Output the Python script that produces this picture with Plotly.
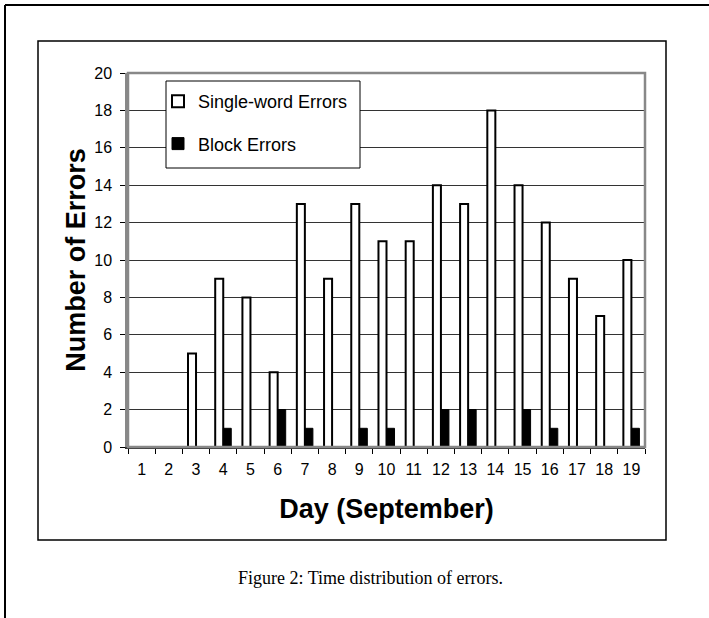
import plotly.graph_objects as go

days = [str(d) for d in range(1, 20)]
single_word = [0, 0, 5, 9, 8, 4, 13, 9, 13, 11, 11, 14, 13, 18, 14, 12, 9, 7, 10]
block = [0, 0, 0, 1, 0, 2, 1, 0, 1, 1, 0, 2, 2, 0, 2, 1, 0, 0, 1]
y_ticks = list(range(0, 21, 2))

W, H = 709, 618
L, R, T, B = 128, 645, 73, 447


def px(x):
    return (x - L) / (R - L)


def py(y):
    return (B - y) / (B - T)


fig = go.Figure()
fig.add_bar(
    x=days, y=single_word, name="Single-word Errors", legendgroup="a",
    marker=dict(color="white", line=dict(color="black", width=2)),
)
fig.add_bar(
    x=days, y=block, name="Block Errors", legendgroup="b",
    marker=dict(color="black", line=dict(color="black", width=1)),
)

shapes = [
    # outer figure frame
    dict(type="line", xref="paper", yref="paper", x0=px(5), x1=px(720), y0=py(5), y1=py(5),
         line=dict(color="black", width=2)),
    dict(type="line", xref="paper", yref="paper", x0=px(5), x1=px(5), y0=py(5), y1=py(630),
         line=dict(color="black", width=2)),
    # chart box
    dict(type="rect", xref="paper", yref="paper", x0=px(38), x1=px(666), y0=py(41), y1=py(540),
         line=dict(color="black", width=1.5)),
    # plot area border
    dict(type="rect", xref="paper", yref="paper", x0=0, x1=1, y0=0, y1=1,
         line=dict(color="#888888", width=2.5)),
    # legend box
    dict(type="rect", xref="paper", yref="paper", x0=px(166), x1=px(360), y0=py(81), y1=py(168),
         fillcolor="white", layer="above", line=dict(color="black", width=1)),
]

fig.update_layout(
    width=W, height=H,
    margin=dict(l=L, r=W - R, t=T, b=H - B),
    paper_bgcolor="white", plot_bgcolor="white",
    font=dict(family="Liberation Sans, Arial", color="black", size=16),
    barmode="group", bargap=0.41, bargroupgap=0,
    showlegend=True,
    legend=dict(
        x=px(158), y=py(83), xanchor="left", yanchor="top",
        bgcolor="rgba(0,0,0,0)", borderwidth=0,
        font=dict(size=18), tracegroupgap=16, traceorder="grouped",
        itemwidth=30,
    ),
    shapes=shapes,
    annotations=[
        dict(text="Figure 2: Time distribution of errors.", xref="paper", yref="paper",
             x=px(370), y=py(590), showarrow=False,
             font=dict(family="Liberation Serif, Times New Roman", size=18)),
    ],
)
fig.update_xaxes(
    type="category", tickson="boundaries", ticks="outside", ticklen=5,
    tickcolor="black", showline=True, linecolor="#333333", linewidth=2,
    showgrid=False, tickfont=dict(size=16), ticklabelstandoff=7,
    title=dict(text="<b>Day (September)</b>", font=dict(size=27), standoff=22),
)
fig.update_yaxes(
    range=[0, 20], tickvals=y_ticks, ticks="outside", ticklen=5, tickcolor="black",
    showline=True, linecolor="#888888", linewidth=2.5,
    showgrid=True, gridcolor="#333333", gridwidth=1, zeroline=False,
    tickfont=dict(size=16), ticklabelstandoff=5,
    title=dict(text="<b>Number of Errors</b>", font=dict(size=27), standoff=1),
)

# drop the default 8px page margin so the figure sits at the window corner
fig.write_html(
    "out.html",
    config={"displayModeBar": False},
    post_script="document.body.style.margin = '0';",
)
